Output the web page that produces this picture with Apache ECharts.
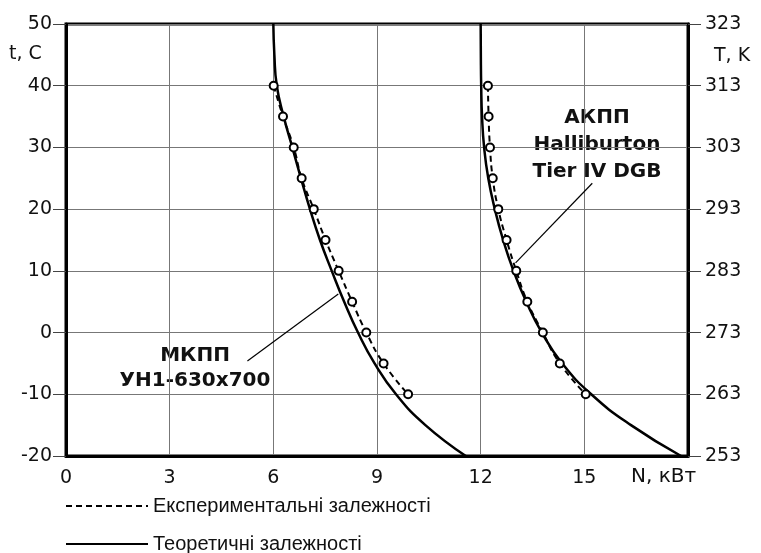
<!DOCTYPE html>
<html><head><meta charset="utf-8">
<script src="https://cdn.jsdelivr.net/npm/echarts@6/dist/echarts.min.js"></script>
<style>html,body{margin:0;padding:0;background:#fff}#c{width:761px;height:553px}</style>
</head><body><div id="c"></div>
<script>
// Experimental points (t, °C) and power N (kW)
const tempExp = [40,35,30,25,20,15,10,5,0,-5,-10];
const mkppExp = [6.01,6.28,6.59,6.82,7.17,7.51,7.89,8.28,8.69,9.19,9.90];
const akppExp = [12.21,12.23,12.27,12.35,12.51,12.75,13.03,13.35,13.80,14.29,15.04];
// Theoretical curves
const tempTheory = [50,45,40,35,30,25,20,15,10,5,0,-5,-10,-15,-20];
const mkppTheory = [6.00,6.03,6.10,6.30,6.55,6.80,7.06,7.35,7.69,8.05,8.45,8.93,9.55,10.40,11.57];
const akppTheory = [12.00,12.005,12.015,12.04,12.10,12.22,12.41,12.65,12.95,13.32,13.77,14.36,15.20,16.35,17.80];
// Axis ticks
const xTicks = [0,3,6,9,12,15];
const celsiusTicks = [-20,-10,0,10,20,30,40,50];
const kelvinTicks = [253,263,273,283,293,303,313,323];
// Texts
const expName = 'Експериментальні залежності';
const theoName = 'Теоретичні залежності';
const mkppLabel = ['МКПП','УН1-630x700'];
const akppLabel = ['АКПП','Halliburton','Tier IV DGB'];
const mkppLeader = [[5.25,-4.6],[7.88,6.25]];
const akppLeader = [[15.23,24.2],[13.01,11.3]];

const FONT = 'DejaVu Sans';
const pairs = (xs, ts) => xs.map((x,i)=>[x, ts[i]]);

const chart = echarts.init(document.getElementById('c'), null, {renderer:'canvas'});
const expSeries = (data) => ({
  name: expName, type:'line', data, smooth:0.5,
  symbol:'circle', symbolSize:8, showSymbol:true,
  lineStyle:{color:'#000', width:2, type:[6,4]},
  itemStyle:{color:'#fff', borderColor:'#000', borderWidth:2},
  z:4, animation:false
});
const theoSeries = (data, leader) => ({
  name: theoName, type:'line', data, smooth:0.5, symbol:'none',
  lineStyle:{color:'#000', width:2.5}, itemStyle:{color:'#000'},
  z:3, animation:false,
  markLine:{silent:true, symbol:'none', label:{show:false},
    lineStyle:{color:'#000', width:1.2, type:'solid'},
    data:[[{coord:leader[0]},{coord:leader[1]}]]}
});
const legendBase = {
  orient:'horizontal', left:60, itemWidth:82, itemHeight:12,
  itemStyle:{opacity:0},
  textStyle:{fontFamily:'Liberation Sans', fontSize:20, color:'#111'}
};

chart.setOption({
  animation:false,
  backgroundColor:'#fff',
  textStyle:{fontFamily:FONT},
  grid:{left:66, right:73, top:24, bottom:97, show:true, borderColor:'#000', borderWidth:3},
  legend:[
    Object.assign({}, legendBase, {top:491, data:[expName]}),
    Object.assign({}, legendBase, {top:529, data:[theoName]})
  ],
  xAxis:{
    type:'value', min:0, max:18, interval:3,
    axisLine:{show:true, onZero:false, lineStyle:{color:'#000', width:3}},
    axisTick:{show:false},
    splitLine:{show:true, lineStyle:{color:'#777', width:1}},
    axisLabel:{fontFamily:FONT, fontSize:19, color:'#111', margin:13, showMaxLabel:false,
      formatter:(v)=> xTicks.includes(v) ? String(v) : ''}
  },
  yAxis:[{
    type:'value', min:-20, max:50, interval:10, position:'left',
    axisLine:{show:true, onZero:false, lineStyle:{color:'#000', width:3}},
    axisTick:{show:true, inside:false, length:13, lineStyle:{color:'#444', width:1}},
    splitLine:{show:true, lineStyle:{color:'#777', width:1}},
    axisLabel:{fontFamily:FONT, fontSize:19, color:'#111', margin:14,
      formatter:(v,i)=> String(celsiusTicks[i])}
  },{
    type:'value', min:-20, max:50, interval:10, position:'right',
    axisLine:{show:true, onZero:false, lineStyle:{color:'#000', width:3}},
    axisTick:{show:true, inside:false, length:13, lineStyle:{color:'#444', width:1}},
    splitLine:{show:false},
    axisLabel:{fontFamily:FONT, fontSize:19, color:'#111', margin:17,
      formatter:(v,i)=> String(kelvinTicks[i])}
  }],
  series:[
    theoSeries(pairs(mkppTheory, tempTheory), mkppLeader),
    theoSeries(pairs(akppTheory, tempTheory), akppLeader),
    expSeries(pairs(mkppExp, tempExp)),
    expSeries(pairs(akppExp, tempExp))
  ],
  graphic:[
    {type:'text', left:9, top:45, style:{text:'t, C', font:'19px "DejaVu Sans"', fill:'#111'}},
    {type:'text', left:714, top:47, style:{text:'T, K', font:'19px "DejaVu Sans"', fill:'#111'}},
    {type:'text', left:631, top:467, style:{text:'N, кВт', font:'20px "DejaVu Sans"', fill:'#111'}},
    {type:'text', x:195, y:356, style:{text:mkppLabel[0], font:'bold 20px "DejaVu Sans"', fill:'#111', align:'center', verticalAlign:'middle'}},
    {type:'text', x:195, y:381, style:{text:mkppLabel[1], font:'bold 20px "DejaVu Sans"', fill:'#111', align:'center', verticalAlign:'middle'}},
    {type:'text', x:597, y:118, style:{text:akppLabel[0], font:'bold 20px "DejaVu Sans"', fill:'#111', align:'center', verticalAlign:'middle'}},
    {type:'text', x:597, y:145, style:{text:akppLabel[1], font:'bold 20px "DejaVu Sans"', fill:'#111', align:'center', verticalAlign:'middle'}},
    {type:'text', x:597, y:172, style:{text:akppLabel[2], font:'bold 20px "DejaVu Sans"', fill:'#111', align:'center', verticalAlign:'middle'}}
  ]
});
</script></body></html>
